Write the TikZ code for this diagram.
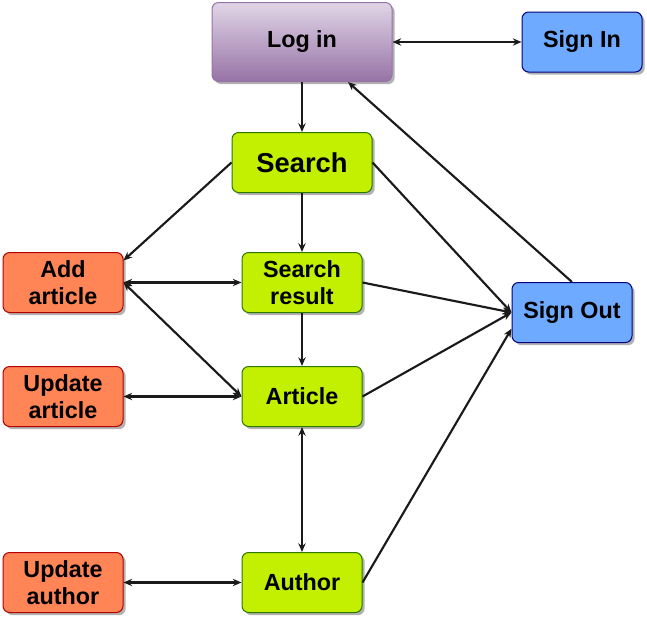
\documentclass[tikz,border=0pt]{standalone}
\usepackage{fontspec}
\setmainfont{Liberation Sans}
\usepackage{xcolor}
\usepackage{tikz}
\usetikzlibrary{arrows.meta, positioning, shadows}
\definecolor{loginTop}{HTML}{E1D5E7}
\definecolor{loginBot}{HTML}{9673A6}
\definecolor{searchGreen}{HTML}{C2F000}
\definecolor{searchLine}{HTML}{2D7600}
\definecolor{editOrange}{HTML}{FF8456}
\definecolor{editLine}{HTML}{B20000}
\definecolor{signBlue}{HTML}{6EAAFF}
\definecolor{signLine}{HTML}{000080}
\definecolor{wire}{HTML}{1A1A1A}

\begin{document}
\begin{tikzpicture}[
    every node/.style={font=\bfseries\fontsize{17.5}{20}\selectfont},
    box/.style={rectangle, rounded corners=5pt, minimum width=90pt,
                minimum height=45pt, align=center, line width=0.75pt,
                inner sep=0pt,
                drop shadow={shadow xshift=2pt, shadow yshift=-2pt,
                             opacity=0.3, fill=black}},
    login/.style={box, draw=loginBot, top color=loginTop,
                  bottom color=loginBot, minimum width=135pt,
                  minimum height=59.25pt},
    page/.style={box, draw=searchLine, fill=searchGreen},
    edit/.style={box, draw=editLine, fill=editOrange},
    sign/.style={box, draw=signLine, fill=signBlue},
    arrow/.style={-{Stealth[length=6.5pt, width=5.5pt]}, line width=1.6pt,
                  color=wire},
    twoway/.style={{Stealth[length=6.5pt, width=5.5pt]}-{Stealth[length=6.5pt, width=5.5pt]},
                   line width=1.6pt, color=wire}
]
\useasboundingbox (0,0) rectangle (485.25pt,-471pt);

% top row
\node[login] (Login) at (226.5pt,-31.5pt) {Log in};
\node[sign, right=96.75pt of Login] (SignIn) {Sign In};

% main column
\node[page, below=37.5pt of Login, minimum width=105pt,
      font=\bfseries\fontsize{20.5}{24}\selectfont] (Search) {Search};
\node[page, below=44.25pt of Search] (Result) {Search\\result};
\node[page, below=39.75pt of Result] (Article) {Article};
\node[page, below=93.75pt of Article] (Author) {Author};

% editing column
\node[edit, left=88.5pt of Result] (AddArt) {Add\\article};
\node[edit, left=88.5pt of Article] (UpdArt) {Update\\article};
\node[edit, left=88.5pt of Author] (UpdAuth) {Update\\author};

\node[sign, right=111.75pt of Result, yshift=-22.5pt] (SignOut) {Sign Out};

\draw[twoway] (Login) -- (SignIn);
\draw[arrow] (Login) -- (Search);
\draw[arrow] (Search) -- (Result);
\draw[arrow] (Result) -- (Article);
\draw[arrow] (Search.west) -- (AddArt.20);
\draw[twoway] (AddArt.east) -- (Result.west);
\draw[twoway] (AddArt.east) -- (Article.west);
\draw[twoway] (UpdArt) -- (Article);
\draw[twoway] (Article) -- (Author);
\draw[twoway] (UpdAuth) -- (Author);

\draw[arrow] (Search.east) -- (SignOut.west);
\draw[arrow] (Result.east) -- (SignOut.west);
\draw[arrow] (Article.east) -- (SignOut.west);
\draw[arrow] (Author.east) -- (SignOut.195);
\draw[arrow] (SignOut.north) -- (Login.-41);

\end{tikzpicture}
\end{document}
